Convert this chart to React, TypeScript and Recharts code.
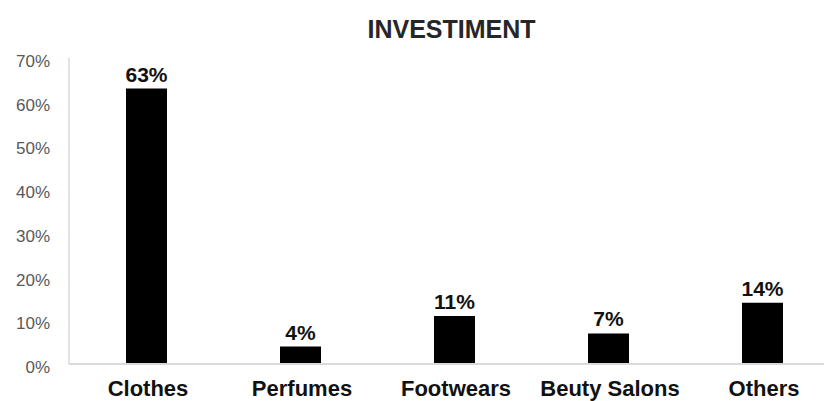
import React from 'react';
import { BarChart, Bar, XAxis, YAxis, LabelList } from 'recharts';

const categories = ['Clothes', 'Perfumes', 'Footwears', 'Beuty Salons', 'Others'];
const investment = [63, 4, 11, 7, 14];
const yTicks = [0, 10, 20, 30, 40, 50, 60, 70];
const title = 'INVESTIMENT';

const data = categories.map((name, i) => ({ name, value: investment[i] }));

const FONT = '"Liberation Sans", Arial, sans-serif';

const YTick = (props: any) => {
  const { x, y, payload } = props;
  return (
    <text x={x} y={y} dy={9} textAnchor="end" fontFamily={FONT} fontSize={17} fill="#595959">
      {`${payload.value}%`}
    </text>
  );
};

const XTick = (props: any) => {
  const { x, y, payload } = props;
  return (
    <text x={x + 2} y={y} dy={15.5} textAnchor="middle" fontFamily={FONT} fontSize={22} fontWeight="bold" fill="#111">
      {payload.value}
    </text>
  );
};

export default function App() {
  return (
    <div style={{ position: 'absolute', left: 0, top: 0, width: 824, height: 401, overflow: 'hidden', background: '#fff' }}>
      <div
        style={{
          position: 'absolute',
          left: 0,
          top: 17,
          width: 903,
          textAlign: 'center',
          fontFamily: FONT,
          fontSize: 25,
          lineHeight: '25px',
          fontWeight: 'bold',
          color: '#262626',
        }}
      >
        {title}
      </div>
      <BarChart
        width={840}
        height={401}
        data={data}
        margin={{ top: 58, right: 1, bottom: 7, left: 0 }}
        barSize={41}
      >
        <XAxis
          dataKey="name"
          axisLine={{ stroke: '#d9d9d9', strokeWidth: 2 }}
          tickLine={false}
          tickSize={0}
          tickMargin={16}
          height={30}
          tick={<XTick />}
          interval={0}
        />
        <YAxis
          domain={[0, 70]}
          ticks={yTicks}
          width={69}
          axisLine={{ stroke: '#d9d9d9', strokeWidth: 1.5 }}
          tickLine={false}
          tickSize={0}
          tickMargin={19}
          tick={<YTick />}
          interval={0}
        />
        <Bar dataKey="value" fill="#000" isAnimationActive={false}>
          <LabelList
            dataKey="value"
            position="top"
            offset={7}
            formatter={(v: any) => `${v}%`}
            style={{ fontFamily: FONT, fontSize: 21, fontWeight: 'bold', fill: '#111' }}
          />
        </Bar>
      </BarChart>
    </div>
  );
}
